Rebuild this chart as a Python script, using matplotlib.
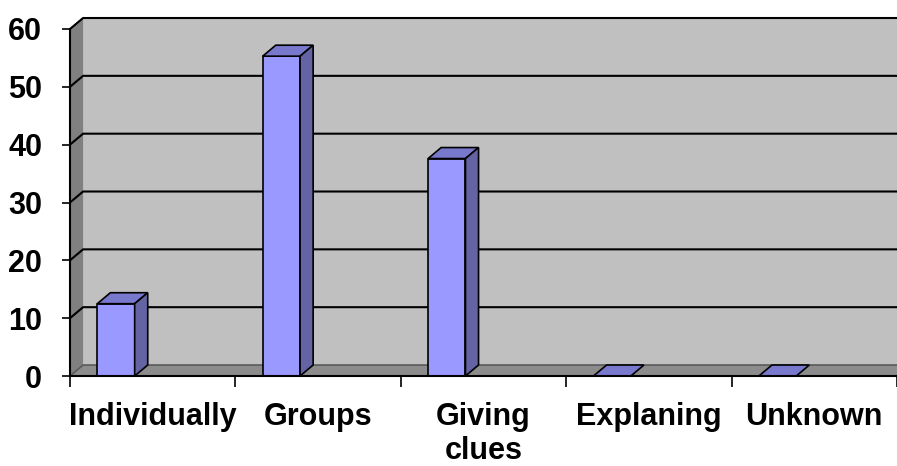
import matplotlib.pyplot as plt
from matplotlib.patches import Polygon

categories = ['Individually', 'Groups', 'Giving\nclues', 'Explaning', 'Unknown']
values = [12.5, 55.3, 37.6, 0, 0]
y_ticks = [0, 10, 20, 30, 40, 50, 60]

plt.rcParams['font.family'] = ['Liberation Sans', 'DejaVu Sans']
plt.rcParams['font.weight'] = 'bold'

fig = plt.figure(figsize=(8.97, 4.66), dpi=100)
ax = fig.add_axes([70 / 897, 90 / 466, 827 / 897, 347 / 466])
n = len(categories)
ymax = y_ticks[-1]
ax.set_xlim(0, n)
ax.set_ylim(0, ymax)
ax.patch.set_visible(False)

# profondeur de l'effet 3D (en unites de donnees)
dx, dy = 0.079, 1.9

# murs et sol
ax.add_patch(Polygon([(dx, dy), (n + dx, dy), (n + dx, ymax + dy), (dx, ymax + dy)],
                     closed=True, fc='#C0C0C0', ec='none', zorder=1, clip_on=False))
ax.add_patch(Polygon([(0, 0), (dx, dy), (dx, ymax + dy), (0, ymax)],
                     closed=True, fc='#808080', ec='none', zorder=1, clip_on=False))
ax.add_patch(Polygon([(0, 0), (n, 0), (n + dx, dy), (dx, dy)],
                     closed=True, fc='#8C8C8C', ec='none', zorder=1, clip_on=False))

# lignes de grille (mur gauche + mur du fond)
for v in y_ticks[1:]:
    ax.plot([0, dx, n + dx], [v, v + dy, v + dy], color='black', lw=1.5,
            clip_on=False, zorder=2, solid_capstyle='butt')
ax.plot([0, dx, n + dx], [0, dy, dy], color='#5a5a5a', lw=1.2, clip_on=False, zorder=2)

# barres
w = 0.226
off = 0.165
x0s = [i + off for i in range(n)]
ax.bar(x0s, values, width=w, align='edge', color='#9999FF', edgecolor='black',
       linewidth=1.2, zorder=4, clip_on=False)
for x0, v in zip(x0s, values):
    top = [(x0, v), (x0 + w, v), (x0 + w + dx, v + dy), (x0 + dx, v + dy)]
    ax.add_patch(Polygon(top, closed=True, fc='#7878CC', ec='black', lw=1.2,
                         zorder=4, clip_on=False))
    if v > 0:
        side = [(x0 + w, 0), (x0 + w + dx, dy), (x0 + w + dx, v + dy), (x0 + w, v)]
        ax.add_patch(Polygon(side, closed=True, fc='#6464A4', ec='black', lw=1.2,
                             zorder=4, clip_on=False))

# axes
for s in ['top', 'right']:
    ax.spines[s].set_visible(False)
for s in ['left', 'bottom']:
    ax.spines[s].set_linewidth(1.5)
    ax.spines[s].set_zorder(5)

ax.set_yticks(y_ticks)
ax.tick_params(axis='y', length=6, width=1.2, pad=14, labelsize=22)
ax.set_xticks(range(n + 1))
ax.set_xticklabels([])
ax.tick_params(axis='x', which='major', length=8, width=1.2)
ax.set_xticks([i + 0.5 for i in range(n)], minor=True)
labels = ax.set_xticklabels(categories, minor=True, fontsize=22, fontweight='bold')
for t in labels:
    t.set_linespacing(1.15)
ax.tick_params(axis='x', which='minor', length=0, pad=19)

fig.savefig('out.png', dpi=100)
